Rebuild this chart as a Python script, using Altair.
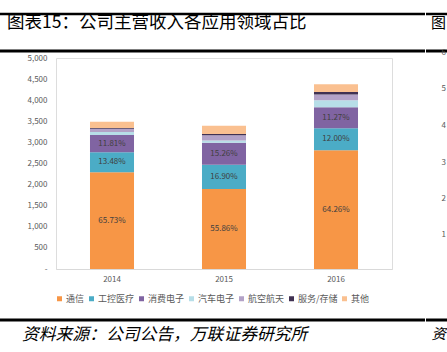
import altair as alt
import pandas as pd

years = ["2014", "2015", "2016"]
segments = ["通信", "工控医疗", "消费电子", "汽车电子", "航空航天", "服务/存储", "其他"]
colors = ["#F79646", "#4BACC6", "#8064A2", "#B7DEE8", "#B3A2C7", "#403152", "#FAC090"]

v2014 = [2294, 470, 412, 70, 77, 20, 147]
v2015 = [1897, 574, 518, 55, 128, 30, 194]
v2016 = [2812, 525, 493, 166, 142, 54, 184]

lab2014 = ["65.73%", "13.48%", "11.81%", "", "", "", ""]
lab2015 = ["55.86%", "16.90%", "15.26%", "", "", "", ""]
lab2016 = ["64.26%", "12.00%", "11.27%", "", "", "", ""]

y_ticks = [0, 500, 1000, 1500, 2000, 2500, 3000, 3500, 4000, 4500, 5000]

rows = []
for yr, vals, labs in zip(years, [v2014, v2015, v2016], [lab2014, lab2015, lab2016]):
    for i, (s, v, l) in enumerate(zip(segments, vals, labs)):
        rows.append({"year": yr, "seg": s, "idx": i, "value": v, "label": l})
df = pd.DataFrame(rows)

FONT = "Noto Sans CJK SC"
GRAY = "#595959"

x_axis = alt.Axis(title=None, labelAngle=0, ticks=False, domainColor="#D9D9D9",
                  labelColor=GRAY, labelFontSize=8, labelPadding=6, labelFont=FONT)
y_axis = alt.Axis(title=None, values=y_ticks, ticks=False, domain=False, grid=False,
                  labelOverlap=False,
                  labelColor=GRAY, labelFontSize=8, labelPadding=9, labelFont=FONT,
                  labelExpr="datum.value == 0 ? '-' : format(datum.value, ',')")
x_scale = alt.Scale(paddingInner=0.607, paddingOuter=0.3035)
y_scale = alt.Scale(domain=[0, 5000], nice=False)

base = alt.Chart(df)

bars = base.mark_bar().encode(
    x=alt.X("year:N", sort=years, scale=x_scale, axis=x_axis),
    y=alt.Y("value:Q", stack="zero", scale=y_scale, axis=y_axis),
    color=alt.Color("seg:N", scale=alt.Scale(domain=segments, range=colors),
                    legend=alt.Legend(title=None, orient="none", direction="horizontal",
                                      legendX=-1, legendY=236, symbolType="square",
                                      symbolSize=25, symbolStrokeWidth=0, labelFontSize=9,
                                      labelColor=GRAY, labelFont=FONT, columnPadding=2,
                                      labelOffset=2)),
    order=alt.Order("idx:Q", sort="ascending"),
)

texts = base.transform_stack(
    stack="value", groupby=["year"], as_=["y0", "y1"],
    sort=[alt.SortField("idx", order="ascending")]
).transform_calculate(
    mid="(datum.y0 + datum.y1) / 2"
).transform_filter(
    "datum.label != ''"
).mark_text(fontSize=8, color="#404040", font=FONT).encode(
    x=alt.X("year:N", sort=years, scale=x_scale, axis=x_axis),
    y=alt.Y("mid:Q", scale=y_scale, axis=y_axis),
    text="label:N",
)

deco = pd.DataFrame({"a": [0]})
dc = alt.Chart(deco)

def rule(x1, x2, y, w):
    return dc.mark_rule(color="black", strokeWidth=w).encode(
        x=alt.value(x1), x2=alt.value(x2), y=alt.value(y))

rules = [
    rule(-56, 369, -44, 2.5), rule(370, 391, -44, 2.5),
    rule(-56, 369, -7, 3), rule(370, 391, -7, 3),
    rule(-56, 369, 262, 3), rule(370, 391, 262, 3),
]

def txt(s, x, y, size, color="black", align="left", style="normal"):
    return dc.mark_text(fontSize=size, color=color, align=align, baseline="middle",
                        font=FONT, fontStyle=style).encode(
        x=alt.value(x), y=alt.value(y), text=alt.value(s))

title = txt("图表15：公司主营收入各应用领域占比", -49, -35, 17.5)
source = txt("资料来源：公司公告，万联证券研究所", -34, 277, 16.8, style="italic")
frag1 = txt("图", 390, -35, 15, align="right")
frag2 = txt("资", 390, 277, 14.5, align="right", style="italic")
digits = [txt(d, 390, y, 8, color=GRAY, align="right")
          for d, y in zip(["6", "5", "4", "3", "2", "1"], [-5, 31, 68, 105, 141, 177])]

chart = alt.layer(bars, texts, *rules, title, source, frag1, frag2, *digits).properties(
    width=336, height=211,
    padding={"left": 56, "top": 58, "right": 55, "bottom": 83},
    autosize=alt.AutoSizeParams(type="none"),
).configure_view(stroke=None).configure(background="white")

chart.save("out.html", embed_options={"renderer": "svg", "actions": False})
